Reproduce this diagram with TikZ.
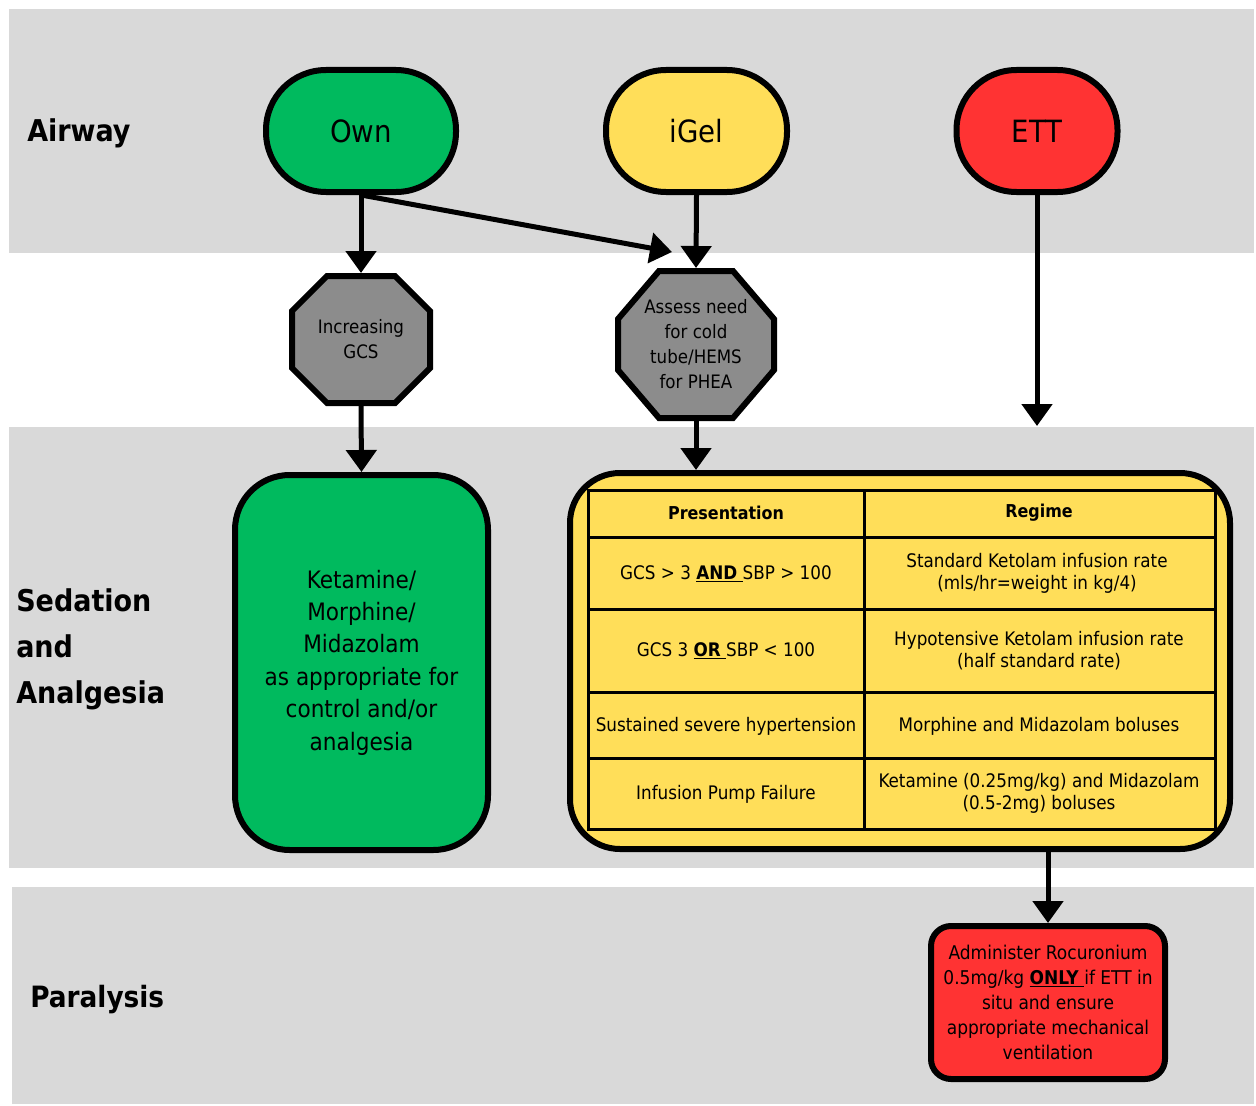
\documentclass[tikz,border=0pt]{standalone}
\usepackage{fontspec}
\setmainfont{DejaVu Sans Condensed}
\usetikzlibrary{arrows.meta}
\definecolor{bandgray}{HTML}{D9D9D9}
\definecolor{ngreen}{HTML}{00BA5E}
\definecolor{nyellow}{HTML}{FFDE59}
\definecolor{nred}{HTML}{FF3333}
\definecolor{ngray}{HTML}{8C8C8C}
\begin{document}
\begin{tikzpicture}[x=0.75pt,y=-0.75pt,
 lane/.style={anchor=west,align=left,inner sep=0pt,font=\bfseries\fontsize{22.5}{34.5}\selectfont},
 airway/.style={draw=black,line width=4.5pt,rounded corners=45pt,minimum height=91.5pt,font=\fontsize{23}{27}\selectfont,inner sep=0pt},
 octdraw/.style={draw=black,fill=ngray,line width=4.5pt,line join=miter},
 octtext/.style={align=center,inner sep=0pt,outer sep=2.25pt,font=\fontsize{13.9}{18.75}\selectfont},
 box/.style={draw=black,line width=4.5pt,align=center,inner sep=0pt},
 cell/.style={align=center,inner sep=0pt,font=\fontsize{14}{16.5}\selectfont},
 hdr/.style={align=center,inner sep=0pt,font=\bfseries\fontsize{13.3}{16.5}\selectfont},
 tline/.style={line width=2.25pt},
 flow/.style={line width=3.75pt,-{Triangle[length=16.5pt,width=22.5pt]}}
]
\useasboundingbox (0,0) rectangle (1256,1106);
\fill[white] (0,0) rectangle (1256,1106);
\fill[bandgray] (9,9) rectangle (1254,253);
\fill[bandgray] (9,427) rectangle (1254,868);
\fill[bandgray] (12,887) rectangle (1254,1104);

% lane labels
\node[lane] (lair) at (27,133) {Airway};
\node[lane] (lsed) at (16,649) {Sedation\\and\\Analgesia};
\node[lane,font=\bfseries\fontsize{22}{34.5}\selectfont] (lpar) at (30,1000) {Paralysis};

% airway nodes
\node[airway,fill=ngreen,minimum width=142.5pt] (own) at (361,131) {Own};
\node[airway,fill=nyellow,minimum width=135.75pt] (igel) at (696.5,131) {iGel};
\node[airway,fill=nred,minimum width=120.75pt] (ett) at (1037,131) {ETT};

% octagons
\draw[octdraw] (327,276) -- (395,276) -- (430,311) -- (430,368) -- (395,403) -- (327,403) -- (292,368) -- (292,311) -- cycle;
\node[octtext,minimum width=103.5pt,minimum height=95.25pt] (oct1) at (361,339.5) {Increasing\\GCS};
\draw[octdraw] (659,271) -- (733,271) -- (774,319) -- (774,370) -- (733,418) -- (659,418) -- (618,370) -- (618,319) -- cycle;
\node[octtext,minimum width=117pt,minimum height=110.25pt] (oct2) at (696,344.5) {Assess need\\for cold\\tube/HEMS\\for PHEA};

% sedation boxes
\node[box,fill=ngreen,minimum width=189.75pt,minimum height=281.25pt,rounded corners=41pt,font=\fontsize{18}{24.3}\selectfont] (ketbox) at (361.5,662.5) {Ketamine/\\Morphine/\\Midazolam\\as appropriate for\\control and/or\\analgesia};
\node[box,fill=nyellow,minimum width=495pt,minimum height=282pt,rounded corners=37.5pt] (big) at (900,661) {};

% table
\draw[tline,fill=nyellow] (588,490) rectangle (1215,829);
\foreach \yy in {537,609,692,758} \draw[tline] (588,\yy) -- (1215,\yy);
\draw[tline] (864,490) -- (864,829);
\node[hdr] (h1) at (726,513) {Presentation};
\node[hdr] (h2) at (1039,513) {Regime};
\node[cell] (p1) at (726,574) {GCS > 3 \underline{\textbf{AND}\ }SBP > 100};
\node[cell] (r1) at (1037,573) {Standard Ketolam infusion rate\\(mls/hr=weight in kg/4)};
\node[cell] (p2) at (726,651) {GCS 3 \underline{\textbf{OR}\ }SBP < 100};
\node[cell] (r2) at (1039,651) {Hypotensive Ketolam infusion rate\\(half standard rate)};
\node[cell] (p3) at (726,726) {Sustained severe hypertension};
\node[cell] (r3) at (1039,726) {Morphine and Midazolam boluses};
\node[cell] (p4) at (726,794) {Infusion Pump Failure};
\node[cell] (r4) at (1039,793) {Ketamine (0.25mg/kg) and Midazolam\\(0.5-2mg) boluses};

% paralysis
\node[box,fill=nred,minimum width=175.5pt,minimum height=114.75pt,rounded corners=15pt,font=\fontsize{14.2}{18.75}\selectfont] (roc) at (1048,1002.5) {Administer Rocuronium\\0.5mg/kg \underline{\textbf{ONLY}\ }if ETT in\\situ and ensure\\appropriate mechanical\\ventilation};

% connectors
\coordinate (slantend) at (672,252);
\coordinate (ettend) at (1037,426);
\draw[flow] (own.south) -- (oct1.north);
\draw[flow] (own.south) -- (slantend);
\draw[flow] (igel.south) -- (oct2.north);
\draw[flow] (ett.south) -- (ettend);
\draw[flow] (oct1.south) -- (ketbox.north);
\draw[flow] (oct2.south) -- (oct2.south |- big.north);
\draw[flow] (big.south -| roc.north) -- (roc.north);
\end{tikzpicture}
\end{document}
